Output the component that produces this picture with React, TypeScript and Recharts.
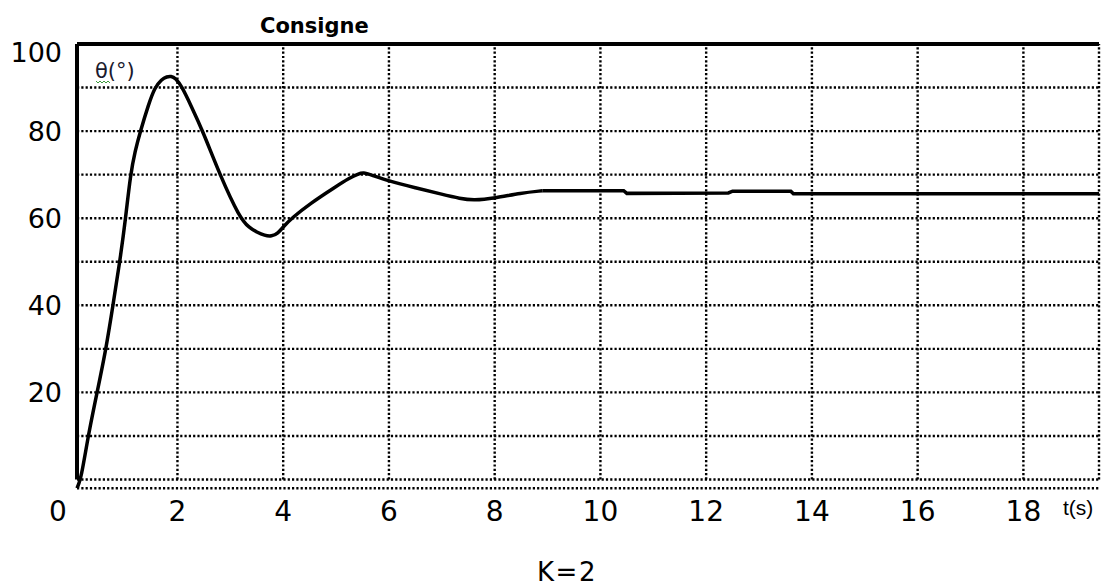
import React from "react";
import {
  LineChart,
  Line,
  XAxis,
  YAxis,
  CartesianGrid,
  ReferenceLine,
} from "recharts";

// transient part of theta(t), K=2
const transientTimes = [
  0.1, 0.18, 0.31, 0.48, 0.65, 0.78, 0.91, 1.02, 1.11, 1.2, 1.3, 1.45, 1.57,
  1.7, 1.8, 1.88, 1.96, 2.08, 2.25, 2.48, 2.8, 3.18, 3.36, 3.5, 3.65, 3.78,
  3.9, 4.0, 4.16, 4.5, 5.0, 5.25, 5.42, 5.52, 5.65, 6.0, 6.5, 7.0, 7.35, 7.6,
  8.0, 8.5, 8.9,
];
const transientTheta = [
  -2, 0.3, 10, 20, 30, 40, 50, 60, 70, 75.5, 80, 86, 90, 91.9, 92.5, 92.6,
  92.2, 90.3, 86, 80, 70, 60, 57.8, 56.8, 56, 55.8, 56.5, 58, 60, 63.3, 67.3,
  69.2, 70.2, 70.5, 70, 68.5, 67, 65.5, 64.5, 64.1, 64.6, 65.8, 66.3,
];
// steady-state part (small steps of the recorder)
const tailTimes = [8.9, 10.44, 10.5, 12.42, 12.5, 13.6, 13.65, 19.43];
const tailTheta = [66.3, 66.3, 65.7, 65.8, 66.2, 66.2, 65.6, 65.6];

const xTicks = [2, 4, 6, 8, 10, 12, 14, 16, 18];
const yTicks = [0, 10, 20, 30, 40, 50, 60, 70, 80, 90, 100];
const yLabels = [20, 40, 60, 80, 100];
const consigne = 100;
const tMax = 19.43;

const transient = transientTimes.map((t, i) => ({ t, theta: transientTheta[i] }));
const tail = tailTimes.map((t, i) => ({ t, theta: tailTheta[i] }));

const font = "'DejaVu Sans', Verdana, sans-serif";

const XTick = (props: any) => (
  <text
    x={props.x}
    y={props.y}
    dy={33}
    textAnchor="middle"
    fontFamily={font}
    fontSize={28}
    fill="#000"
  >
    {props.payload.value}
  </text>
);

const YTick = (props: any) => {
  const v = props.payload.value;
  if (!yLabels.includes(v)) return <g />;
  return (
    <text
      x={props.x}
      y={props.y}
      dy={v === 100 ? 18 : 10}
      textAnchor="end"
      fontFamily={font}
      fontSize={27}
      fill="#000"
    >
      {v}
    </text>
  );
};

const dotted = { stroke: "#000", strokeWidth: 2.4, strokeDasharray: "2.2 2.1" };

export default function App() {
  return (
    <div style={{ position: "absolute", left: 0, top: 0, width: 1103, height: 587, background: "#fff" }}>
      <LineChart
        width={1103}
        height={587}
        margin={{ top: 44, right: 4, bottom: 68.8, left: 0 }}
      >
        <CartesianGrid horizontal vertical={false} {...dotted} />
        <XAxis
          dataKey="t"
          type="number"
          domain={[0.1, tMax]}
          ticks={xTicks}
          axisLine={false}
          tickLine={false}
          tickSize={0}
          tickMargin={0}
          height={30}
          tick={<XTick />}
          interval={0}
          allowDuplicatedCategory={false}
        />
        <YAxis
          type="number"
          domain={[-2, 100]}
          ticks={yTicks}
          axisLine={false}
          tickLine={false}
          tickSize={0}
          tickMargin={15}
          width={77}
          tick={<YTick />}
          interval={0}
          allowDataOverflow
        />
        {[...xTicks, tMax].map((x) => (
          <ReferenceLine
            key={`v-${x}`}
            segment={[
              { x, y: 0 },
              { x, y: 100 },
            ]}
            {...dotted}
          />
        ))}
        <ReferenceLine
          segment={[
            { x: 0.1, y: 0 },
            { x: 0.1, y: 100 },
          ]}
          stroke="#000"
          strokeWidth={4}
        />
        <ReferenceLine y={consigne} stroke="#000" strokeWidth={4} />
        <Line
          data={transient}
          type="basis"
          dataKey="theta"
          stroke="#000"
          strokeWidth={3.5}
          dot={false}
          isAnimationActive={false}
        />
        <Line
          data={tail}
          type="linear"
          dataKey="theta"
          stroke="#000"
          strokeWidth={3.5}
          dot={false}
          isAnimationActive={false}
        />
      </LineChart>
      <svg
        width={1103}
        height={587}
        style={{ position: "absolute", left: 0, top: 0, pointerEvents: "none" }}
      >
        <text x={260} y={33} fontFamily={font} fontWeight="bold" fontSize={21} fill="#000">
          Consigne
        </text>
        <text x={95} y={78} fontFamily={font} fontSize={21} fill="#1a1a2e">
          θ(°)
        </text>
        <path
          d="M96 81 l2 2 l2 -2 l2 2 l2 -2 l2 2 l2 -2 l2 2"
          stroke="#3c9a3c"
          strokeWidth={1}
          fill="none"
        />
        <text x={58} y={521} textAnchor="middle" fontFamily={font} fontSize={28} fill="#000">
          0
        </text>
        <text x={1063} y={515} fontFamily="'Liberation Sans', Arial, sans-serif" fontSize={21} fill="#000">
          t(s)
        </text>
        <text
          x={567}
          y={581}
          textAnchor="middle"
          fontFamily={font}
          fontSize={26}
          letterSpacing={1.5}
          fill="#000"
        >
          K=2
        </text>
      </svg>
    </div>
  );
}
